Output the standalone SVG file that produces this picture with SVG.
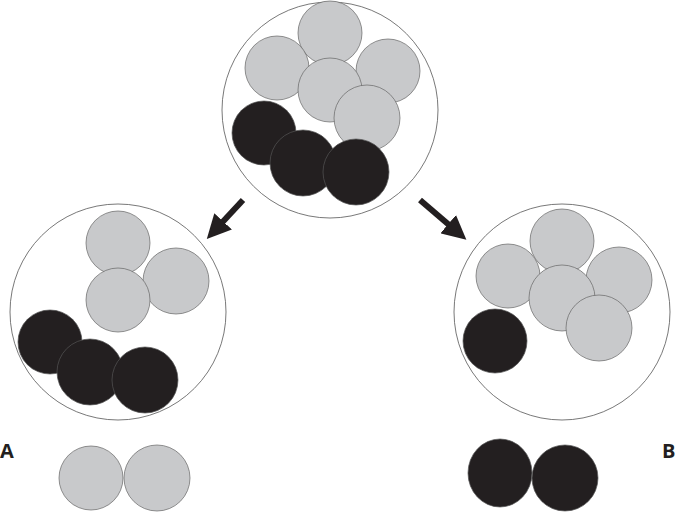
<svg xmlns="http://www.w3.org/2000/svg" width="677" height="515" viewBox="0 0 677 515">
<style>
.b{fill:#fff;stroke:#555;stroke-width:0.8}
.g{fill:#c8c9cb;stroke:#666;stroke-width:0.7}
.k{fill:#231f20;stroke:#555;stroke-width:0.7}
.t{font-family:"Open Sans","Liberation Sans",sans-serif;font-weight:bold;font-size:20px;fill:#231f20}
.a{stroke:#231f20;stroke-width:6;marker-end:url(#ah)}
</style>
<defs><marker id="ah" markerWidth="4" markerHeight="4" refX="1.5" refY="2" orient="auto"><path d="M0,0L4,2L0,4z" fill="#231f20"/></marker></defs>
<rect width="677" height="515" fill="#fff"/>
<g id="top">
<circle class="b" cx="330" cy="110" r="108"/>
<circle class="g" cx="330" cy="33" r="32"/>
<circle class="g" cx="277" cy="68" r="32"/>
<circle class="g" cx="388" cy="71" r="32"/>
<circle class="g" cx="330" cy="90" r="32"/>
<circle class="g" cx="367" cy="118" r="33"/>
<circle class="k" cx="264" cy="133" r="32"/>
<circle class="k" cx="303" cy="163" r="33"/>
<circle class="k" cx="356" cy="172" r="33"/>
</g>
<g id="left">
<circle class="b" cx="118" cy="312" r="108"/>
<circle class="g" cx="118" cy="243" r="32"/>
<circle class="g" cx="176" cy="281" r="33"/>
<circle class="g" cx="118" cy="300" r="32"/>
<circle class="k" cx="50" cy="342" r="32"/>
<circle class="k" cx="90" cy="372" r="33"/>
<circle class="k" cx="145" cy="380" r="33"/>
</g>
<g id="right">
<circle class="b" cx="562" cy="312" r="108"/>
<circle class="g" cx="562" cy="241" r="32"/>
<circle class="g" cx="508" cy="276" r="32"/>
<circle class="g" cx="619" cy="280" r="33"/>
<circle class="g" cx="562" cy="298" r="33"/>
<circle class="g" cx="599" cy="328" r="33"/>
<circle class="k" cx="495" cy="341" r="32"/>
</g>
<g id="A">
<circle class="g" cx="91" cy="478" r="32"/>
<circle class="g" cx="157" cy="478" r="33"/>
<text class="t" x="0" y="458">A</text>
</g>
<g id="B">
<ellipse class="k" cx="500" cy="473" rx="32" ry="34"/>
<circle class="k" cx="565" cy="478" r="33"/>
<text class="t" x="662" y="458">B</text>
</g>
<g id="connectors">
<line class="a" x1="243" y1="200" x2="217" y2="228"/>
<line class="a" x1="420" y1="200" x2="455" y2="230"/>
</g>
</svg>
